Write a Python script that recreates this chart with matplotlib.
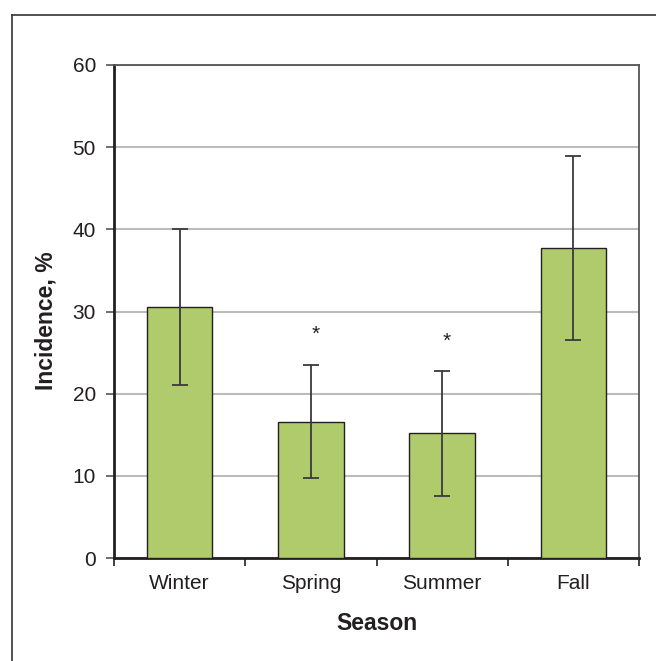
import matplotlib
matplotlib.use("Agg")
import matplotlib.pyplot as plt
from matplotlib.lines import Line2D

seasons = ["Winter", "Spring", "Summer", "Fall"]
incidence = [30.5, 16.6, 15.2, 37.7]
err_low = [9.5, 6.9, 7.6, 11.2]
err_high = [9.5, 6.9, 7.5, 11.2]
significant = [False, True, True, False]
yticks = [0, 10, 20, 30, 40, 50, 60]

plt.rcParams['font.family'] = ['Liberation Sans', 'DejaVu Sans']

fig = plt.figure(figsize=(6.56, 6.61), dpi=100)
ax = fig.add_axes([114/656, 1-558/661, (639-114)/656, (558-65)/661])

x = list(range(len(seasons)))
ax.bar(x, incidence, width=0.5, color="#afcb6b", edgecolor="#231f20", linewidth=1.0, zorder=3)
ax.errorbar(x, incidence, yerr=[err_low, err_high], fmt="none", ecolor="#3a3a3a",
            elinewidth=1.3, capsize=6, capthick=1.3, zorder=4)

for xi, v, eh, sig in zip(x, incidence, err_high, significant):
    if sig:
        ax.annotate("*", xy=(xi, v + eh), xytext=(3.5, 22), textcoords="offset points",
                    ha="center", va="center", fontsize=15, color="#231f20")

ax.set_xlim(-0.5, len(seasons) - 0.5)
ax.set_ylim(0, 60)
ax.set_yticks(yticks)
ax.set_xticks([i - 0.5 for i in range(len(seasons) + 1)])
ax.set_xticklabels([])
ax.set_xticks(x, minor=True)
ax.set_xticklabels(seasons, minor=True, fontsize=15, color="#231f20")
for lab in ax.get_xticklabels(minor=True):
    lab.set_va("baseline")
ax.tick_params(axis="x", which="minor", length=0, pad=22)
ax.tick_params(axis="x", which="major", length=6, width=1.2, color="#231f20", direction="out")
ax.tick_params(axis="y", length=6, width=1.2, color="#555555", labelsize=15, pad=7)
for lab in ax.get_yticklabels():
    lab.set_color("#231f20")

ax.yaxis.grid(True, color="#bbbbbb", linewidth=1.5, zorder=0)
ax.set_axisbelow(True)

for s in ["left", "bottom"]:
    ax.spines[s].set_color("#231f20")
    ax.spines[s].set_linewidth(2.0)
for s in ["top", "right"]:
    ax.spines[s].set_color("#555555")
    ax.spines[s].set_linewidth(1.3)

ax.set_ylabel("Incidence, %", fontsize=16.5, fontweight="bold", color="#231f20", va="center")
ax.set_xlabel("Season", fontsize=16.5, fontweight="bold", color="#231f20", va="center")
ax.yaxis.set_label_coords((46-114)/525, (558-321)/493)
ax.xaxis.set_label_coords(0.5, (558-624)/493)

# outer figure frame (cropped on the right and bottom)
fig.add_artist(Line2D([12/656, 12/656], [0, 1-15/661], transform=fig.transFigure,
                      color="#333333", linewidth=1.2))
fig.add_artist(Line2D([12/656, 1], [1-15/661, 1-15/661], transform=fig.transFigure,
                      color="#333333", linewidth=1.2))

fig.savefig("out.png", dpi=100)
